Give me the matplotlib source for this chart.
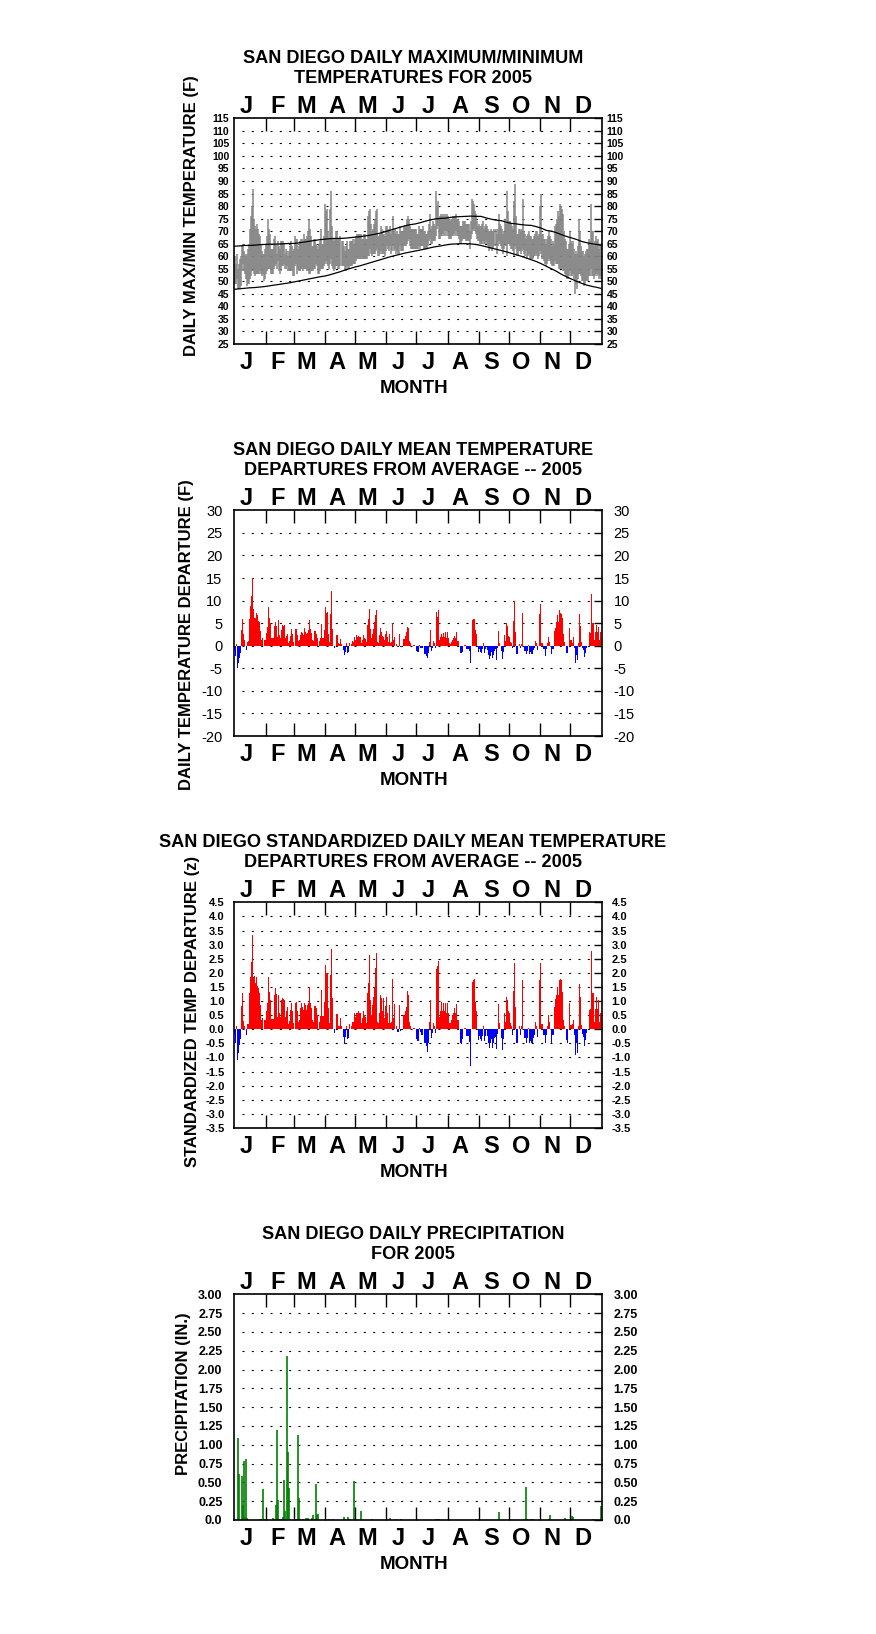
import numpy as np
import matplotlib
matplotlib.use("Agg")
import matplotlib.pyplot as plt
import matplotlib.transforms as mtransforms

plt.rcParams['font.family'] = ['Liberation Sans', 'DejaVu Sans']

month_letters = ['J', 'F', 'M', 'A', 'M', 'J', 'J', 'A', 'S', 'O', 'N', 'D']
month_len = [31, 28, 31, 30, 31, 30, 31, 31, 30, 31, 30, 31]

# --- daily max / min temperature (F)
tmax_jan = [60, 57, 61, 55, 57, 59, 60, 64, 65, 62, 61, 60, 61, 63, 65, 71, 76, 80, 87, 75, 72, 71, 73, 71, 69, 68, 65, 62, 61, 61, 63]
tmin_jan = [49, 49, 51, 47, 47, 47, 48, 54, 57, 54, 53, 51, 48, 49, 49, 51, 52, 54, 55, 53, 52, 53, 53, 53, 53, 54, 53, 52, 53, 50, 51]
tmax_feb = [65, 68, 75, 71, 69, 63, 63, 63, 67, 68, 65, 61, 66, 64, 63, 66, 66, 66, 65, 61, 63, 62, 60, 62, 64, 66, 64, 62]
tmin_feb = [53, 54, 55, 55, 55, 53, 53, 53, 55, 56, 57, 55, 58, 54, 53, 54, 56, 56, 57, 55, 55, 56, 54, 54, 54, 54, 54, 52]
tmax_mar = [63, 68, 67, 67, 63, 64, 66, 67, 67, 66, 69, 67, 67, 68, 70, 75, 71, 68, 64, 64, 67, 67, 65, 64, 63, 65, 66, 71, 65, 65, 68]
tmin_mar = [52, 56, 57, 53, 55, 54, 54, 55, 55, 54, 55, 55, 55, 54, 54, 53, 53, 54, 54, 54, 55, 55, 57, 56, 53, 53, 54, 55, 55, 55, 56]
tmax_apr = [81, 78, 79, 70, 67, 79, 86, 72, 67, 66, 67, 70, 70, 67, 67, 68, 66, 66, 64, 62, 64, 66, 63, 63, 66, 66, 66, 67, 65, 67]
tmin_apr = [57, 58, 57, 56, 55, 57, 59, 56, 55, 54, 55, 56, 56, 55, 55, 56, 56, 56, 56, 54, 54, 56, 55, 55, 56, 56, 56, 57, 57, 57]
tmax_may = [68, 69, 69, 69, 69, 69, 67, 67, 69, 69, 67, 67, 76, 78, 79, 73, 70, 71, 73, 75, 78, 79, 68, 68, 69, 72, 71, 69, 69, 68, 72]
tmin_may = [58, 59, 59, 59, 59, 59, 59, 59, 59, 59, 59, 59, 60, 60, 63, 61, 60, 61, 61, 61, 62, 63, 60, 60, 61, 62, 61, 61, 61, 60, 62]
tmax_jun = [72, 71, 70, 72, 69, 70, 76, 70, 71, 69, 70, 69, 69, 72, 70, 70, 70, 72, 72, 72, 75, 76, 75, 72, 71, 71, 71, 71, 71, 71]
tmin_jun = [64, 63, 62, 64, 61, 62, 64, 62, 63, 61, 62, 61, 61, 64, 62, 62, 62, 64, 64, 64, 65, 66, 67, 64, 63, 63, 63, 63, 63, 63]
tmax_jul = [69, 69, 72, 71, 71, 71, 72, 70, 70, 69, 69, 70, 73, 77, 71, 72, 74, 73, 72, 86, 80, 82, 75, 76, 77, 76, 77, 76, 77, 76, 77]
tmin_jul = [63, 63, 64, 63, 64, 64, 64, 63, 63, 63, 63, 64, 66, 67, 65, 65, 66, 66, 66, 68, 71, 72, 67, 67, 68, 68, 69, 68, 70, 68, 70]
tmax_aug = [76, 75, 74, 75, 75, 76, 76, 76, 77, 75, 75, 74, 72, 72, 72, 74, 74, 74, 73, 73, 73, 73, 70, 74, 83, 82, 81, 78, 77, 74, 72]
tmin_aug = [68, 67, 67, 67, 68, 68, 69, 68, 70, 68, 68, 67, 65, 65, 66, 67, 67, 67, 66, 66, 66, 66, 63, 67, 69, 70, 71, 70, 69, 67, 66]
tmax_sep = [73, 72, 72, 73, 74, 71, 72, 73, 72, 71, 70, 70, 71, 70, 70, 71, 71, 69, 71, 77, 73, 72, 71, 69, 70, 75, 73, 86, 78, 74]
tmin_sep = [66, 65, 65, 65, 66, 65, 65, 66, 65, 64, 62, 63, 64, 62, 63, 64, 64, 61, 64, 66, 65, 64, 63, 61, 63, 65, 64, 60, 65, 65]
tmax_oct = [74, 73, 72, 71, 82, 89, 76, 69, 69, 71, 71, 70, 71, 83, 70, 69, 67, 68, 69, 70, 68, 68, 67, 67, 68, 69, 70, 70, 68, 69, 80]
tmin_oct = [64, 63, 63, 62, 60, 64, 63, 60, 60, 62, 62, 61, 62, 63, 61, 60, 62, 59, 60, 61, 59, 59, 59, 59, 60, 60, 61, 60, 59, 60, 62]
tmax_nov = [85, 69, 69, 67, 67, 65, 67, 68, 70, 68, 67, 64, 66, 65, 72, 73, 75, 78, 76, 81, 80, 79, 77, 70, 67, 66, 63, 63, 65, 70]
tmin_nov = [61, 59, 59, 58, 57, 56, 57, 58, 59, 58, 57, 56, 56, 56, 58, 57, 57, 57, 55, 55, 55, 55, 54, 54, 53, 52, 51, 51, 52, 54]
tmax_dec = [66, 65, 66, 63, 61, 62, 61, 64, 75, 70, 64, 62, 62, 60, 61, 62, 63, 63, 67, 66, 81, 70, 70, 64, 66, 68, 66, 67, 63, 65, 64]
tmin_dec = [52, 52, 53, 51, 45, 49, 47, 51, 53, 53, 52, 50, 50, 48, 49, 50, 50, 50, 52, 52, 55, 52, 52, 51, 52, 53, 52, 53, 51, 52, 51]

tmax = np.array(tmax_jan + tmax_feb + tmax_mar + tmax_apr + tmax_may + tmax_jun
                + tmax_jul + tmax_aug + tmax_sep + tmax_oct + tmax_nov + tmax_dec)
tmin = np.array(tmin_jan + tmin_feb + tmin_mar + tmin_apr + tmin_may + tmin_jun
                + tmin_jul + tmin_aug + tmin_sep + tmin_oct + tmin_nov + tmin_dec)

# normal max / min, read every 5 days
norm_days = list(range(0, 365, 5)) + [364]
norm_max = [64.0, 64.1, 64.3, 64.3, 64.4, 64.6, 64.7, 64.8, 64.8, 64.9,
            65.0, 65.1, 65.1, 65.4, 65.7, 66.0, 66.3, 66.6, 66.8, 67.0,
            67.1, 67.1, 67.2, 67.4, 67.6, 67.8, 68.1, 68.4, 68.8, 69.2,
            69.8, 70.4, 71.0, 71.6, 72.2, 72.6, 72.9, 73.4, 74.0, 74.5,
            74.9, 75.1, 75.2, 75.5, 75.7, 75.8, 75.9, 76.0, 75.9, 75.9,
            75.3, 74.8, 74.4, 74.2, 73.6, 73.1, 72.9, 72.6, 72.4, 72.3,
            71.8, 71.2, 70.3, 70.0, 69.4, 68.6, 67.9, 67.3, 66.7, 65.9,
            65.4, 65.0, 64.7, 64.4]
norm_min = [46.8, 47.0, 47.2, 47.4, 47.5, 47.7, 47.9, 48.2, 48.5, 48.8,
            49.1, 49.4, 49.8, 50.2, 50.6, 51.0, 51.4, 51.8, 52.1, 52.6,
            53.2, 53.8, 54.5, 55.1, 55.7, 56.2, 56.8, 57.4, 58.0, 58.6,
            59.2, 59.8, 60.3, 60.8, 61.3, 61.7, 62.1, 62.5, 62.9, 63.4,
            63.8, 64.1, 64.5, 64.8, 64.9, 65.0, 65.0, 64.9, 64.7, 64.3,
            63.8, 63.3, 62.8, 62.3, 61.8, 61.2, 60.6, 60.0, 59.3, 58.6,
            57.9, 57.0, 56.0, 55.0, 54.0, 52.8, 51.8, 50.9, 50.0, 49.2,
            48.5, 48.0, 47.6, 47.2]

# daily mean temperature departure (F)
dep = [-1.0, -2.2, 0.4, -4.9, -3.8, -2.7, -1.7, 3.5, 5.9, 2.6,
       1.3, 0, -1.0, 0.9, 1.1, 5.9, 8.8, 11.1, 15.0, 8.1,
       6.1, 6.1, 7.2, 6.8, 5.5, 5.3, 3.3, 1.3, 1.6, 0,
       1.3, 2.9, 4.2, 8.6, 6.1, 5.1, 1.8, 1.8, 1.6, 4.4,
       5.2, 4.4, 1.9, 5.7, 2.4, 1.6, 3.5, 4.5, 4.4, 4.5,
       1.6, 2.1, 2.7, 0.5, 1.0, 2.1, 3.7, 2.7, 0.9, 0,
       3.7, 3.6, 2.4, 1.0, 1.3, 2.4, 3.1, 2.9, 2.4, 3.9,
       3.1, 2.7, 2.9, 3.5, 5.7, 3.6, 2.9, 1.3, 1.0, 3.3,
       3.3, 2.7, 1.8, 0, 1.0, 1.6, 4.8, 1.6, 1.6, 3.5,
       8.5, 7.2, 7.5, 2.7, 0.9, 7.0, 12.1, 3.7, 0, -0.4,
       0, 2.4, 2.4, 0.5, 0.4, 1.5, 0.4, 0, -1.0, -2.1,
       -1.3, 0.5, -1.6, -1.3, 0.5, 0, 0.4, 1.0, 0.9, 1.9,
       1.3, 2.4, 2.0, 2.1, 2.0, 2.0, 0.7, 1.3, 2.4, 1.8,
       1.4, 0.9, 4.6, 5.9, 8.1, 3.6, 1.6, 2.7, 3.6, 5.3,
       6.8, 7.9, 0.9, 0.5, 2.4, 3.9, 3.1, 2.1, 2.0, 1.3,
       2.7, 3.3, 2.0, 0.9, 2.7, 0.5, 0.9, 5.0, 1.3, 2.0,
       0, 0.4, -0.2, -0.2, 2.6, -0.2, 0, 0, 1.5, 1.5,
       2.1, 3.1, 4.2, 3.9, 1.0, 0.5, 0, 0, 0.15, 0.15,
       0, -1.1, -1.3, 0.2, -0.4,
       -0.4, -0.4, 0, -1.9, -1.9, -2.2, -2.7, -1.7, 0.9, 3.5,
       -1.1, -0.4, 1.0, 0.5, -0.4, 7.4, 6.4, 7.9, 1.3, 1.9,
       2.7, 1.9, 2.9, 1.9, 3.1, 1.6, 3.1, 1.6, 0.5, 0.4,
       0.9, 1.3, 1.6, 2.1, 1.6, 3.1, 1.0, 1.0, 0, -1.7,
       -1.7, -1.3, 0, 0.2, 0.2, -0.8, -0.8, -0.8, -1.1, -3.8,
       0, 5.6, 5.9, 5.9, 3.5, 2.6, 0, -1.3, -0.8, -1.3,
       -1.6, -0.8, 0.5, -1.6, -0.8, 0, -1.0, -2.1, -3.0, -2.2,
       -1.3, -2.7, -2.1, -1.1, -0.8, -3.2, -0.6, 3.3, 0.7, 0,
       -1.1, -3.0, -1.3, 2.4, 1.1, 5.0, 4.4, 2.1, 2.0, 0.9,
       0.5, -0.6, 5.5, 9.8, 3.1, -1.9, -1.9, 0, 0.4, -0.6,
       0.4, 7.3, 0, -1.1, -1.1, -1.9, -1.1, 0.2, -1.9, -1.5,
       -1.9, -1.9, -1.0, -0.6, 1.0, 0.5, -1.0, 0, 7.0, 9.3,
       0.7, 0.7, -0.8, -0.8, -2.2, -0.8, 0.5, 1.9, 0.9, 0,
       -1.9, -0.8, -0.8, 3.3, 4.0, 5.3, 6.8, 5.3, 7.9, 7.3,
       7.0, 6.1, 2.6, 0.9, 0, -1.7, -1.7, 0, 3.9, 1.3,
       0.7, 1.9, -0.6, -3.8, -2.1, -3.2, 0.5, 7.0, 4.4, 0.9,
       -0.6, -1.0, -2.4, -1.6, -0.4, 0, 0, 3.1, 2.9, 11.5,
       5.0, 5.0, 1.3, 3.1, 4.6, 3.1, 4.2, 1.3, 3.1, 1.6]

# standardized departure (z)
zdep = [-0.17, -0.5, 0.1, -1.08, -0.83, -0.55, -0.35, 0.83, 1.27, 0.3,
        0.13, 0, -0.2, 0.2, 0.2, 1.3, 1.86, 2.37, 3.34, 1.86,
        1.9, 1.63, 1.86, 1.53, 1.47, 1.27, 0.86, 0.33, 0.39, 0,
        0.33, 0.63, 0.92, 1.84, 1.33, 1.04, 0.37, 0.37, 0.37, 1.22,
        1.45, 1.24, 0.45, 1.22, 0.57, 0.45, 1.04, 1.1, 1.06, 1.04,
        0.45, 0.66, 0.8, 0.19, 0.31, 0.68, 0.94, 0.63, 0.21, 0,
        0.92, 0.98, 0.63, 0.27, 0.33, 0.74, 0.94, 0.8, 0.68, 0.94,
        0.86, 0.68, 0.86, 0.92, 1.49, 0.92, 0.74, 0.33, 0.27, 0.83,
        0.83, 0.74, 0.51, 0, 0.27, 0.47, 1.39, 0.47, 0.47, 0.98,
        2.28, 1.98, 1.98, 0.74, 0.21, 1.92, 2.84, 1.1, 0, -0.12,
        0, 0.53, 0.53, 0.1, 0.1, 0.39, 0.1, 0, -0.26, -0.53,
        -0.26, 0.13, -0.35, -0.32, 0.19, 0, 0.1, 0.27, 0.25, 0.57,
        0.45, 0.57, 0.59, 0.63, 0.57, 0.59, 0.21, 0.39, 0.63, 0.51,
        0.45, 0.21, 1.27, 1.63, 2.63, 1.04, 0.51, 0.86, 1.16, 1.51,
        2.16, 2.71, 0.27, 0.21, 0.57, 1.22, 1.1, 0.63, 1.1, 0.39,
        0.83, 1.16, 0.57, 0.21, 0.86, 0.21, 0.27, 1.77, 0.39, 0.9,
        0, 0.1, -0.08, -0.08, 0.86, -0.06, 0, 0, 0.51, 0.51,
        0.63, 0.8, 1.37, 1.22, 0.24, 0.1, 0, 0, 0.06, 0.06,
        0, -0.35, -0.41, 0.04, -0.08,
        -0.2, -0.2, 0, -0.5, -0.5, -0.61, -0.79, -0.5, 0.27, 1.04,
        -0.32, -0.12, 0.21, 0.1, -0.12, 2.12, 2.24, 2.42, 0.45, 0.65,
        0.98, 0.65, 0.92, 0.65, 0.92, 0.57, 0.92, 0.57, 0.21, 0.21,
        0.33, 0.51, 0.57, 0.74, 0.57, 0.9, 0.33, 0.33, 0, -0.5,
        -0.52, -0.35, 0, 0.04, 0.04, -0.24, -0.24, -0.24, -0.44, -1.32,
        0, 1.69, 1.75, 1.77, 0.98, 0.65, 0, -0.38, -0.24, -0.35,
        -0.4, -0.24, 0.12, -0.4, -0.24, 0, -0.24, -0.5, -0.65, -0.5,
        -0.35, -0.67, -0.5, -0.32, -0.26, -0.71, -0.17, 0.9, 0.21, 0,
        -0.32, -0.73, -0.35, 0.57, 0.27, 1.16, 1.04, 0.63, 0.57, 0.21,
        0.1, -0.2, 1.36, 2.34, 0.8, -0.5, -0.5, 0, 0.1, -0.2,
        0.1, 1.75, 0, -0.32, -0.32, -0.5, -0.32, 0.04, -0.5, -0.41,
        -0.5, -0.5, -0.32, -0.2, 0.27, 0.1, -0.26, 0, 1.75, 2.34,
        0.18, 0.18, -0.2, -0.2, -0.47, -0.2, 0.1, 0.51, 0.27, 0,
        -0.47, -0.2, -0.2, 0.8, 1.06, 1.22, 1.49, 1.22, 1.75, 1.77,
        1.75, 1.33, 0.33, 0.1, 0, -0.38, -0.47, 0, 0.92, 0.15,
        0.19, 0.33, -0.2, -0.93, -0.5, -0.85, 0.1, 1.59, 1.16, 0.15,
        -0.17, -0.26, -0.59, -0.38, -0.14, 0, 0, 0.68, 0.71, 2.77,
        1.27, 1.27, 0.27, 0.71, 1.13, 0.71, 1.04, 0.27, 0.57, 0.41]

# precipitation (in.), only days with a measurable bar
rain_day = [3, 4, 7, 8, 9, 10, 11, 12, 25, 26, 28, 29, 38, 41, 42, 43, 45, 47, 48, 49,
            50, 52, 53, 54, 55, 62, 63, 64, 65, 68, 71, 73, 77, 78, 80, 81, 82, 83, 94, 98,
            108, 109, 112, 113, 114, 118, 119, 125, 136, 154, 160, 165, 200, 201, 203, 240, 262, 289, 290, 294,
            295, 296, 312, 313, 328, 335, 336, 356, 364]
rain_amt = [1.09, 0.61, 0.58, 0.20, 0.78, 0.04, 0.81, 0.02, 0.01, 0.01, 0.41, 0.01, 0.02, 0.20, 1.20, 0.26, 0.01, 0.01, 0.04, 0.53,
            0.12, 2.18, 0.90, 0.43, 0.01, 0.01, 1.13, 0.29, 0.01, 0.01, 0.02, 0.03, 0.02, 0.07, 0.01, 0.48, 0.07, 0.08, 0.01, 0.01,
            0.04, 0.01, 0.04, 0.01, 0.01, 0.52, 0.01, 0.12, 0.01, 0.02, 0.01, 0.01, 0.01, 0.01, 0.01, 0.01, 0.10, 0.44, 0.01, 0.01,
            0.01, 0.01, 0.01, 0.07, 0.02, 0.05, 0.04, 0.01, 0.18]

# ---------------------------------------------------------------------------
W, H = 876, 1634
fig = plt.figure(figsize=(W / 100, H / 100), dpi=100)
fig.patch.set_facecolor('white')

ax_left, ax_w, ax_hpx = 234.3, 367.4, 225.7
tops = [118.3, 510.3, 902.3, 1294.3]
axes = [fig.add_axes([ax_left / W, 1 - (t + ax_hpx) / H, ax_w / W, ax_hpx / H]) for t in tops]

month_start = np.concatenate([[0], np.cumsum(month_len)])


def dress(ax, yticks, ylabels, tfs, tweight, pad, ylabel, lab_xy, title1, title2):
    ax.set_xlim(0, 365)
    ax.set_ylim(yticks[0], yticks[-1])
    for s in ax.spines.values():
        s.set_linewidth(1.2)
    ax.set_xticks(month_start[1:-1])
    ax.tick_params(axis='x', direction='in', top=True, bottom=True, length=9.5,
                   width=1, labelbottom=False)
    ax.set_yticks(yticks)
    ax.set_yticklabels(ylabels, fontsize=tfs, fontweight=tweight)
    ax.tick_params(axis='y', direction='in', left=False, right=True, length=6,
                   width=1, labelleft=True, labelright=True, pad=pad)
    ax.hlines(yticks[1:-1], 8, 357, colors='k', linewidth=0.8,
              linestyles=[(0, (1.8, 6.6))], zorder=1)
    tr = mtransforms.blended_transform_factory(ax.transData, ax.transAxes)
    for i, m in enumerate(month_letters):
        xc = month_start[i] + 12
        ax.text(xc, 1 + 5 / ax_hpx, m, transform=tr, ha='center', va='baseline',
                fontsize=17, fontweight='bold')
        ax.text(xc, -7 / ax_hpx, m, transform=tr, ha='center', va='top',
                fontsize=17, fontweight='bold')
    ax.text(0.488, -49 / ax_hpx, 'MONTH', transform=ax.transAxes, ha='center',
            va='baseline', fontsize=13.5, fontweight='bold')
    ax.text(0.486, 1 + 55.5 / ax_hpx, title1, transform=ax.transAxes, ha='center',
            va='baseline', fontsize=13.1, fontweight='bold')
    ax.text(0.486, 1 + 35.5 / ax_hpx, title2, transform=ax.transAxes, ha='center',
            va='baseline', fontsize=13.1, fontweight='bold')
    ax.text(lab_xy[0], lab_xy[1], ylabel, transform=ax.transAxes, rotation=90,
            ha='center', va='center', fontsize=12, fontweight='bold')


# panel 1: daily max/min
ax = axes[0]
ax.vlines(np.arange(len(tmax)) + 0.5, tmin, tmax, colors='#858585', linewidth=1.1, zorder=2)
ax.plot(norm_days, norm_max, color='k', linewidth=0.9, zorder=3)
ax.plot(norm_days, norm_min, color='k', linewidth=0.9, zorder=3)
yt = list(range(25, 120, 5))
dress(ax, yt, [str(v) for v in yt], 7.5, 'bold', 3.5, 'DAILY MAX/MIN TEMPERATURE (F)',
      (-0.117, 0.568), 'SAN DIEGO DAILY MAXIMUM/MINIMUM', 'TEMPERATURES FOR 2005')

# panel 2: departures
ax = axes[1]
dep_a = np.array(dep)
ax.bar(np.arange(len(dep_a)), dep_a, width=1.0, align='edge', linewidth=0,
       color=np.where(dep_a >= 0, '#ff0000', '#0000ff'), zorder=2)
yt = list(range(-20, 35, 5))
dress(ax, yt, [str(v) for v in yt], 10.5, 'normal', 8.5, 'DAILY TEMPERATURE DEPARTURE (F)',
      (-0.13, 0.447), 'SAN DIEGO DAILY MEAN TEMPERATURE', 'DEPARTURES FROM AVERAGE -- 2005')

# panel 3: standardized departures
ax = axes[2]
z_a = np.array(zdep)
ax.bar(np.arange(len(z_a)), z_a, width=1.0, align='edge', linewidth=0,
       color=np.where(z_a >= 0, '#ff0000', '#0000ff'), zorder=2)
yt = [v / 2 for v in range(-7, 10)]
dress(ax, yt, ['%.1f' % v for v in yt], 8, 'bold', 7, 'STANDARDIZED TEMP DEPARTURE (z)',
      (-0.114, 0.516), 'SAN DIEGO STANDARDIZED DAILY MEAN TEMPERATURE',
      'DEPARTURES FROM AVERAGE -- 2005')

# panel 4: precipitation
ax = axes[3]
ax.vlines(np.array(rain_day) + 0.5, 0, rain_amt, colors='#008000', linewidth=1.2, zorder=2)
yt = [v / 4 for v in range(0, 13)]
dress(ax, yt, ['0.0'] + ['%.2f' % v for v in yt[1:]], 9, 'bold', 8.5, 'PRECIPITATION (IN.)',
      (-0.139, 0.561), 'SAN DIEGO DAILY PRECIPITATION', 'FOR 2005')

fig.savefig('out.png', dpi=100, facecolor='white')
